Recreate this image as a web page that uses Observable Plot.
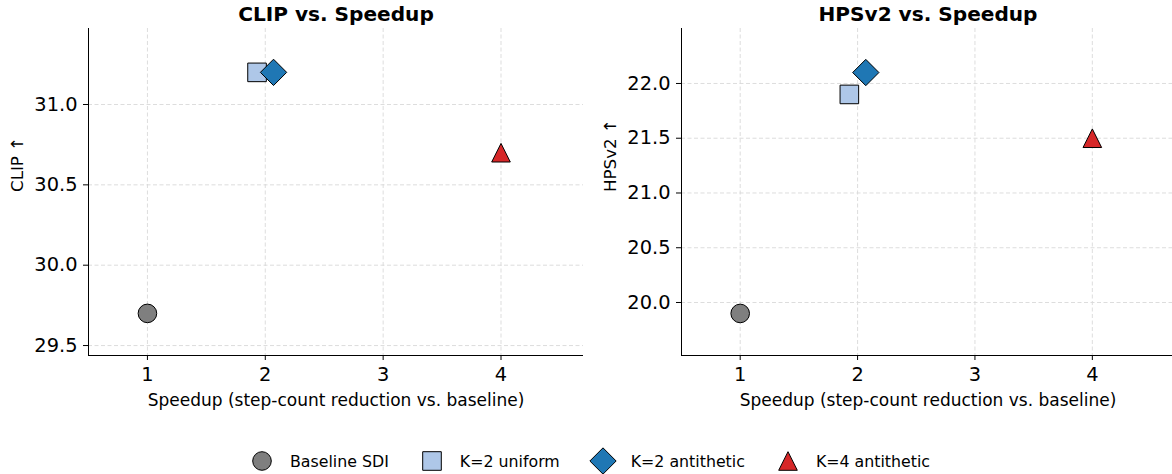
<!DOCTYPE html>
<html>
<head>
<meta charset="utf-8">
<script src="https://cdn.jsdelivr.net/npm/d3@7"></script>
<script src="https://cdn.jsdelivr.net/npm/@observablehq/plot@0.6"></script>
<style>
  html, body { margin: 0; padding: 0; background: white; overflow: hidden; }
  #root { position: relative; width: 1172px; height: 474px; font-family: "DejaVu Sans", sans-serif; overflow: hidden; }
  .panel { position: absolute; top: 0; height: 420px; }
  .panel svg { max-width: none !important; }
  #legend { position: absolute; left: 0; width: 1172px; top: 449px; height: 24px; box-sizing: border-box; padding-left: 8px;
            display: flex; justify-content: center; align-items: center; font-size: 15.8px; color: black; }
  .item { display: flex; align-items: center; margin-right: 31px; }
  .item:last-child { margin-right: 0; }
  .item svg { margin-right: 16px; overflow: visible; }
</style>
</head>
<body>
<div id="root">
  <div id="left" class="panel" style="left:0px; width:586px"></div>
  <div id="right" class="panel" style="left:586px; width:590px"></div>
  <div id="legend"></div>
</div>
<script>
// ---- data ----
const series = ["Baseline SDI", "K=2 uniform", "K=2 antithetic", "K=4 antithetic"];
const speedup = [1, 1.93, 2.07, 4];
const clipScores = [29.7, 31.2, 31.2, 30.7];
const hpsScores = [19.9, 21.9, 22.1, 21.5];
const xTicks = [1, 2, 3, 4];
const clipTicks = [29.5, 30.0, 30.5, 31.0];
const hpsTicks = [20.0, 20.5, 21.0, 21.5, 22.0];
const colors = ["#7f7f7f", "#aec7e8", "#1f77b4", "#d62728"];
const titles = ["CLIP vs. Speedup", "HPSv2 vs. Speedup"];
const yLabels = ["CLIP \u2191", "HPSv2 \u2191"];
const xLabel = "Speedup (step-count reduction vs. baseline)";

// ---- marker shapes (matplotlib-like: o, s, D, ^) ----
const symCircle = { draw(ctx, size) { const r = Math.sqrt(size / Math.PI); ctx.moveTo(r, 0); ctx.arc(0, 0, r, 0, 2 * Math.PI); ctx.closePath(); } };
const symSquare = { draw(ctx, size) { const r = Math.sqrt(size / Math.PI); ctx.moveTo(-r, -r); ctx.lineTo(r, -r); ctx.lineTo(r, r); ctx.lineTo(-r, r); ctx.closePath(); } };
const symDiamond = { draw(ctx, size) { const r = Math.sqrt(size / Math.PI) * Math.SQRT2; ctx.moveTo(0, -r); ctx.lineTo(r, 0); ctx.lineTo(0, r); ctx.lineTo(-r, 0); ctx.closePath(); } };
const symTriangle = { draw(ctx, size) { const r = Math.sqrt(size / Math.PI); ctx.moveTo(0, -r); ctx.lineTo(r, r); ctx.lineTo(-r, r); ctx.closePath(); } };
const symbols = [symCircle, symSquare, symDiamond, symTriangle];
const R = 9.3;

const FONT = "DejaVu Sans";

function panel(values, yDomain, yTicks, title, yLabel, width, marginLeft, marginRight) {
  const rows = series.map((s, i) => ({ series: s, x: speedup[i], y: values[i] }));
  const gridStyle = { stroke: "#d9d9d9", strokeOpacity: 1, strokeWidth: 0.9, strokeDasharray: "4,2.5" };
  return Plot.plot({
    width, height: 420,
    marginTop: 28, marginBottom: 65, marginLeft, marginRight,
    style: { fontFamily: FONT, color: "black", background: "transparent", overflow: "visible" },
    x: { domain: [0.5, 4.7] },
    y: { domain: yDomain },
    marks: [
      Plot.gridX(xTicks, gridStyle),
      Plot.gridY(yTicks, gridStyle),
      Plot.ruleX([0.5], { stroke: "black", strokeWidth: 1 }),
      Plot.ruleY([yDomain[0]], { stroke: "black", strokeWidth: 1 }),
      Plot.axisX(xTicks, { tickSize: 5, tickPadding: 7, fontSize: 19.4, label: null, tickFormat: d => String(d) }),
      Plot.axisY(yTicks, { tickSize: 5, tickPadding: 6, fontSize: 19.4, label: null, tickFormat: d => d.toFixed(1) }),
      ...series.map((s, i) => Plot.dot(rows.filter(d => d.series === s), {
        x: "x", y: "y", r: R, symbol: symbols[i], fill: colors[i], stroke: "black", strokeWidth: 1
      })),
      Plot.text([title], { text: d => d, frameAnchor: "top", lineAnchor: "middle", dy: -14, fontSize: 20.1, fontWeight: "bold" }),
      Plot.text([xLabel], { text: d => d, frameAnchor: "bottom", lineAnchor: "middle", dy: 45, fontSize: 17 }),
      Plot.text([yLabel], { text: d => d, frameAnchor: "left", lineAnchor: "middle", rotate: -90, dx: -71, fontSize: 16.7 })
    ]
  });
}

document.getElementById("left").append(
  panel(clipScores, [29.438, 31.473], clipTicks, titles[0], yLabels[0], 586, 88, 3));
document.getElementById("right").append(
  panel(hpsScores, [19.516, 22.502], hpsTicks, titles[1], yLabels[1], 590, 95, 2));

// ---- legend ----
const legend = d3.select("#legend");
series.forEach((s, i) => {
  const item = legend.append("div").attr("class", "item");
  const svg = item.append("svg").attr("width", 24).attr("height", 24);
  svg.append("path")
    .attr("transform", "translate(12,12)")
    .attr("d", d3.symbol(symbols[i], Math.PI * R * R)())
    .attr("fill", colors[i]).attr("stroke", "black").attr("stroke-width", 1);
  item.append("span").text(s);
});
</script>
</body>
</html>
